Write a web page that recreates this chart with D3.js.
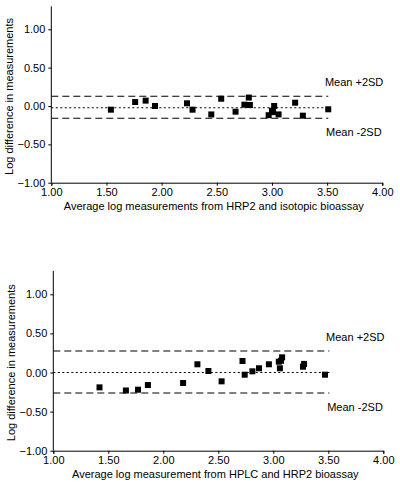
<!DOCTYPE html>
<html><head><meta charset="utf-8">
<script src="https://cdn.jsdelivr.net/npm/d3@7"></script>
<style>body{margin:0;background:#fff}svg{display:block;font-family:"Liberation Sans",Arial,sans-serif}</style>
</head><body><svg id="c" width="400" height="489"></svg>
<script>
// Panel A: HRP2 vs isotopic bioassay
const aX = [1.54,1.76,1.855,1.94,2.23,2.28,2.45,2.54,2.67,2.75,2.79,2.80,2.97,3.00,3.02,3.01,3.06,3.21,3.28,3.51];
const aY = [-0.048,0.052,0.07,0.00,0.035,-0.048,-0.11,0.095,-0.074,0.017,0.11,0.013,-0.12,-0.061,0.0,-0.08,-0.11,0.043,-0.126,-0.043];
const aMean = -0.022, aPlus = 0.128, aMinus = -0.16;
// Panel B: HPLC vs HRP2 bioassay
const bX = [1.42,1.66,1.77,1.86,2.18,2.31,2.41,2.53,2.72,2.74,2.81,2.87,2.96,3.05,3.06,3.08,3.07,3.27,3.28,3.47];
const bY = [-0.19,-0.23,-0.22,-0.16,-0.134,0.105,0.019,-0.113,0.147,-0.028,0.015,0.054,0.105,0.138,0.054,0.194,0.15,0.074,0.11,-0.028];
const bMean = 0.0, bPlus = 0.275, bMinus = -0.262;
const xTicks = [1.0,1.5,2.0,2.5,3.0,3.5,4.0];
const yTicks = [-1.0,-0.5,0.0,0.5,1.0];
const yTitle = "Log difference in measurements";
const aXTitle = "Average log measurements from HRP2 and isotopic bioassay";
const bXTitle = "Average log measurement from HPLC and HRP2 bioassay";
const plusLabel = "Mean +2SD", minusLabel = "Mean -2SD";

const svg = d3.select("#c");
function panel(cfg){
  const g = svg.append("g");
  const x = d3.scaleLinear().domain([1,4]).range([cfg.x0,cfg.x1]);
  const y = d3.scaleLinear().domain([-1,1]).range([cfg.yb,cfg.yt]);
  const yTop = y(1.3);
  const fmt = d3.format(".2f");
  // axes
  const xa = g.append("g").attr("transform",`translate(0,${y(-1)})`)
    .call(d3.axisBottom(x).tickValues(xTicks).tickFormat(fmt).tickSizeOuter(0).tickSize(3).tickPadding(3));
  const ya = g.append("g").attr("transform",`translate(${x(1)},0)`)
    .call(d3.axisLeft(y).tickValues(yTicks).tickFormat(fmt).tickSizeOuter(0).tickSize(3).tickPadding(3));
  ya.select(".domain").attr("d",`M0,${y(-1)}V${yTop}`);
  [xa,ya].forEach(a=>{a.selectAll("text").attr("font-size",11).attr("fill","#000").attr("font-family","Liberation Sans, Arial, sans-serif");
    a.selectAll("line,path").attr("stroke","#000");});
  xa.selectAll("text").attr("dy","0.71em");
  // reference lines
  const ref = [[cfg.plus,"7,4"],[cfg.minus,"7,4"],[cfg.mean,"2,2.5"]];
  ref.forEach(([v,d])=>{
    g.append("line").attr("x1",x(1)).attr("x2",x(3.51)).attr("y1",y(v)).attr("y2",y(v))
      .attr("stroke","#000").attr("stroke-width",1.1).attr("stroke-dasharray",d);
  });
  g.append("text").attr("x",x(3.48)).attr("y",y(cfg.plus)-cfg.lblOff).attr("font-size",11).text(plusLabel);
  g.append("text").attr("x",x(3.49)).attr("y",y(cfg.minus)+cfg.lblOff+8).attr("font-size",11).text(minusLabel);
  // points
  g.selectAll("rect.p").data(cfg.xs.map((v,i)=>[v,cfg.ys[i]])).join("rect")
    .attr("x",d=>x(d[0])-3).attr("y",d=>y(d[1])-3).attr("width",6).attr("height",6).attr("fill","#000");
  // titles
  g.append("text").attr("x",(x(1)+x(4))/2-3).attr("y",y(-1)+27).attr("text-anchor","middle").attr("font-size",11).text(cfg.xTitle);
  g.append("text").attr("transform",`translate(${cfg.ytx},${(y(-1)+yTop)/2+2}) rotate(-90)`).attr("text-anchor","middle").attr("font-size",11).text(yTitle);
}
panel({x0:51.3,x1:382.3,yt:29.3,yb:182.7,xs:aX,ys:aY,mean:aMean,plus:aPlus,minus:aMinus,xTitle:aXTitle,lblOff:10,ytx:13});
panel({x0:53.3,x1:383.3,yt:294.3,yb:450.7,xs:bX,ys:bY,mean:bMean,plus:bPlus,minus:bMinus,xTitle:bXTitle,lblOff:10,ytx:15});
</script></body></html>
